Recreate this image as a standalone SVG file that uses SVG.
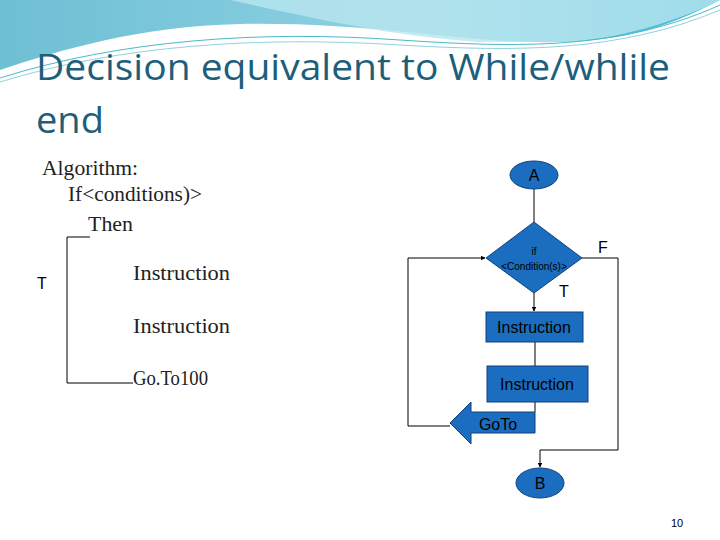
<svg xmlns="http://www.w3.org/2000/svg" width="720" height="540" viewBox="0 0 720 540">
<defs>
<linearGradient id="bg" x1="0" y1="0" x2="1" y2="0"><stop offset="0" stop-color="#6fbfd4"/><stop offset="0.6" stop-color="#8fd2e3"/><stop offset="1" stop-color="#3fb6d8"/></linearGradient>
<marker id="ah" viewBox="0 0 10 10" refX="9" refY="5" markerWidth="5" markerHeight="5" orient="auto"><path d="M0,0 L10,5 L0,10 z" fill="#000"/></marker>
<style>
.shape{fill:#1a6dbf;stroke:#10407a;stroke-width:1}
.lbl{font-family:"Liberation Sans",Arial,sans-serif;fill:#000}
.ser{font-family:"Liberation Serif","Times New Roman",serif;font-size:20px;fill:#222}
.ln{fill:none;stroke:#000;stroke-width:1}
</style>
</defs>
<path d="M0,0 H720 V0 C680,20 640,40 560,42 C460,44 380,22 240,24 C140,26 60,50 0,70 Z" fill="url(#bg)"/>
<path d="M230,0 C300,15 380,35 480,42 L560,42 C620,40 680,20 720,0 Z" fill="#b8e6ef" opacity="0.8"/>
<path d="M0,78 C120,40 260,30 400,40 C520,48 620,50 720,5" fill="none" stroke="#4ab9c9" stroke-width="1"/>
<path d="M0,82 C120,45 260,36 400,45 C520,52 620,52 720,10" fill="none" stroke="#8fd3de" stroke-width="1"/>
<text x="36" y="80" font-family="'Open Sans','Liberation Sans',sans-serif" font-size="37" fill="#1d5f7a" textLength="634" lengthAdjust="spacingAndGlyphs">Decision equivalent to While/whlile</text>
<text x="36" y="133" font-family="'Open Sans','Liberation Sans',sans-serif" font-size="37" fill="#1d5f7a" textLength="68" lengthAdjust="spacingAndGlyphs">end</text>
<g id="pseudo">
<text class="ser" x="42" y="175" textLength="96" lengthAdjust="spacingAndGlyphs">Algorithm:</text>
<text class="ser" x="68" y="201" textLength="134" lengthAdjust="spacingAndGlyphs">If&lt;conditions)&gt;</text>
<text class="ser" x="88" y="231" textLength="45" lengthAdjust="spacingAndGlyphs">Then</text>
<text class="lbl" x="37" y="289" font-size="16">T</text>
<text class="ser" x="133" y="280" textLength="97" lengthAdjust="spacingAndGlyphs">Instruction</text>
<text class="ser" x="133" y="333" textLength="97" lengthAdjust="spacingAndGlyphs">Instruction</text>
<text class="ser" x="133" y="385" textLength="75" lengthAdjust="spacingAndGlyphs">Go.To100</text>
<path class="ln" d="M90,237 H67 V383 H133"/>
</g>
<g id="connectors">
<path class="ln" d="M534,189 V222"/>
<path class="ln" d="M534,293 V311" stroke-width="2" marker-end="url(#ah)"/>
<path class="ln" d="M535,342 V366"/>
<path class="ln" d="M535,402 V412"/>
<path class="ln" d="M450,426 H408 V258 H485" stroke-width="1.5" marker-end="url(#ah)"/>
<path class="ln" d="M582,258 H618 V450 H540 V467" marker-end="url(#ah)"/>
<text class="lbl" x="598" y="253" font-size="16">F</text>
<text class="lbl" x="559" y="297" font-size="16">T</text>
</g>
<g id="A"><ellipse class="shape" cx="534" cy="175" rx="24" ry="14"/><text class="lbl" x="534" y="181" font-size="16" text-anchor="middle">A</text></g>
<g id="cond"><path class="shape" d="M534,222 L582,258 L534,293 L486,258 Z"/><text class="lbl" x="534" y="255" font-size="10" text-anchor="middle">if</text><text class="lbl" x="534" y="270" font-size="10" text-anchor="middle">&lt;Condition(s)&gt;</text></g>
<g id="ins1"><rect class="shape" x="486" y="312" width="97" height="30"/><text class="lbl" x="534" y="333" font-size="16" text-anchor="middle">Instruction</text></g>
<g id="ins2"><rect class="shape" x="487" y="366" width="101" height="36"/><text class="lbl" x="537" y="390" font-size="16" text-anchor="middle">Instruction</text></g>
<g id="goto"><path class="shape" d="M535,412 V433 H471 V444 L450,423 L471,402 V412 Z"/><text class="lbl" x="498" y="430" font-size="16" text-anchor="middle">GoTo</text></g>
<g id="B"><ellipse class="shape" cx="540" cy="483" rx="24" ry="15"/><text class="lbl" x="540" y="489" font-size="16" text-anchor="middle">B</text></g>
<text class="lbl" x="677" y="527" font-size="11" fill="#1d5f7a" text-anchor="middle">10</text>
</svg>
